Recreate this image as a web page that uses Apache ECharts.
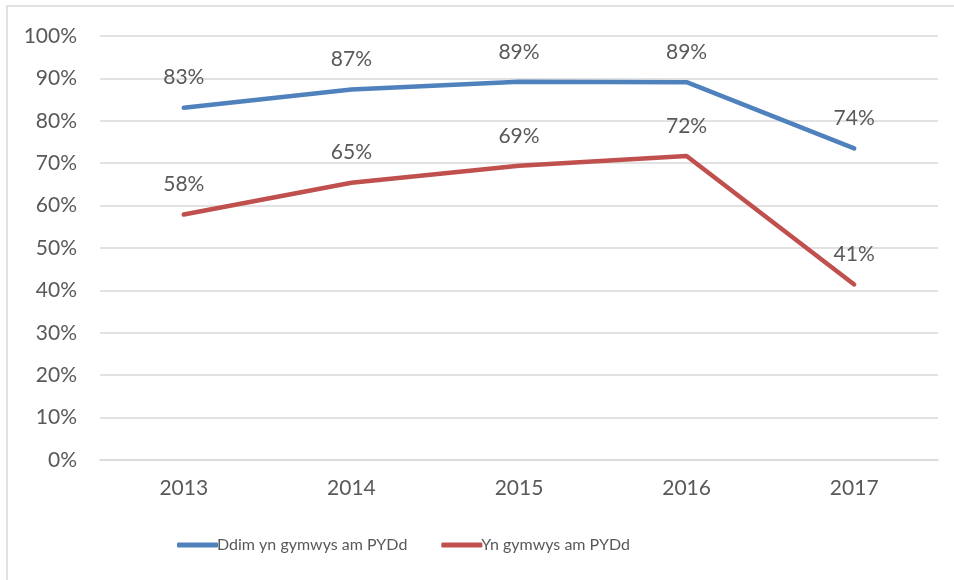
<!DOCTYPE html>
<html>
<head>
<meta charset="utf-8">
<script src="https://cdn.jsdelivr.net/npm/echarts@6/dist/echarts.min.js"></script>
<style>
  html, body { margin: 0; padding: 0; background: #fff; }
  #main { width: 954px; height: 580px; }
</style>
</head>
<body>
<div id="main"></div>
<script>
// 数据
var years = ['2013', '2014', '2015', '2016', '2017'];
var ddimYnGymwys = [83.1, 87.4, 89.2, 89.1, 73.5]; // Ddim yn gymwys am PYDd
var ynGymwys = [57.9, 65.4, 69.4, 71.7, 41.4];     // Yn gymwys am PYDd
var seriesNames = ['Ddim yn gymwys am PYDd', 'Yn gymwys am PYDd'];

var myChart = echarts.init(document.getElementById('main'));
var textColor = '#595959';
var fontFamily = 'Lato, "Noto Sans", sans-serif';

function lineSeries(name, data, color){
    return {
        name: name,
        type: 'line',
        data: data,
        symbol: 'circle',
        symbolSize: 1,
        showSymbol: true,
        lineStyle: { color: color, width: 4.5, cap: 'round', join: 'round' },
        itemStyle: { color: color },
        label: {
            show: true,
            position: 'top',
            distance: 19,
            color: textColor,
            fontSize: 21,
            fontFamily: fontFamily,
            formatter: function(p){ return Math.round(p.value) + '%'; }
        }
    };
}

var option = {
    animation: false,
    graphic: [{
        type: 'rect',
        shape: { x: 7, y: 6, width: 1000, height: 700 },
        style: { fill: 'none', stroke: '#d9d9d9', lineWidth: 1.5 },
        silent: true
    }],
    grid: { left: 100, right: 16, top: 36, bottom: 120 },
    legend: {
        data: seriesNames,
        left: 172,
        top: 532,
        icon: 'roundRect',
        itemWidth: 41,
        itemHeight: 5,
        itemGap: 34,
        textStyle: { color: textColor, fontSize: 16, fontFamily: fontFamily, padding: [0, 0, 0, -6] }
    },
    xAxis: {
        type: 'category',
        data: years,
        axisLine: { show: true, lineStyle: { color: '#d9d9d9', width: 1.5 } },
        axisTick: { show: false },
        axisLabel: { color: textColor, fontSize: 21, fontFamily: fontFamily, margin: 18 }
    },
    yAxis: {
        type: 'value',
        min: 0,
        max: 100,
        interval: 10,
        axisLine: { show: false },
        axisTick: { show: false },
        splitLine: { lineStyle: { color: '#d9d9d9', width: 1.5 } },
        axisLabel: { formatter: '{value}%', color: textColor, fontSize: 21, fontFamily: fontFamily, margin: 23 }
    },
    series: [
        lineSeries(seriesNames[0], ddimYnGymwys, '#4f81bd'),
        lineSeries(seriesNames[1], ynGymwys, '#c0504d')
    ]
};
myChart.setOption(option);
</script>
</body>
</html>
